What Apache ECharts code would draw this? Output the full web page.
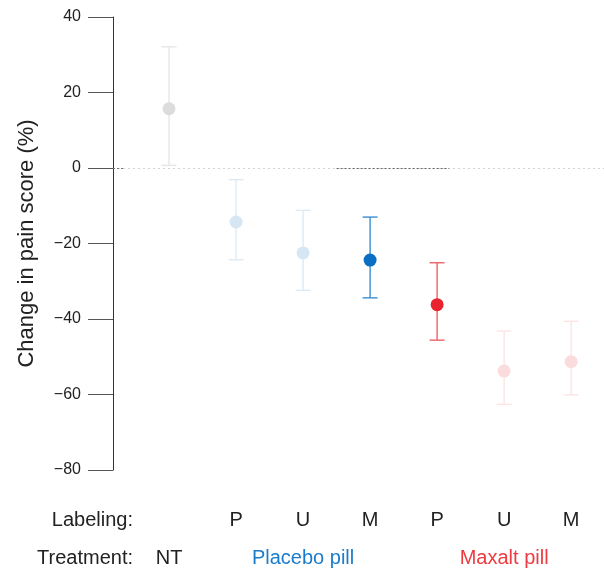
<!DOCTYPE html>
<html>
<head>
<meta charset="utf-8">
<script src="https://cdn.jsdelivr.net/npm/echarts@6/dist/echarts.min.js"></script>
<style>html,body{margin:0;padding:0;background:#fff}#c{width:604px;height:573px}</style>
</head>
<body>
<div id="c"></div>
<script>
// ---- data ----
var positions = [1, 2, 3, 4, 5, 6, 7];
var labeling = ['', 'P', 'U', 'M', 'P', 'U', 'M'];
var treatment = ['NT', '', 'Placebo pill', '', '', 'Maxalt pill', ''];
var meanChange = [15.7, -14.3, -22.5, -24.4, -36.2, -53.8, -51.3];
var upperCI = [32.1, -3.1, -11.2, -13.0, -25.1, -43.2, -40.6];
var lowerCI = [0.7, -24.3, -32.4, -34.4, -45.6, -62.6, -60.1];
var yTicks = [-80, -60, -40, -20, 0, 20, 40];

// ---- styles ----
var pointColors = ['#dcdcdc', '#d6e6f3', '#d6e6f3', '#0a6ec2', '#e8222e', '#fbdcdd', '#fbdcdd'];
var barColors = ['#e6e6e6', '#deebf6', '#deebf6', '#3a8ed2', '#ee6168', '#fce5e6', '#fce5e6'];
var FONT = '"Liberation Sans", Arial, Helvetica, sans-serif';

var chart = echarts.init(document.getElementById('c'), null, {renderer: 'canvas'});

var errData = positions.map(function (p, i) { return [p, lowerCI[i], upperCI[i]]; });
var ptData = positions.map(function (p, i) {
  return { value: [p, meanChange[i]], itemStyle: { color: pointColors[i], opacity: 1 } };
});

function fmtMinus(v) { return v < 0 ? '\u2212' + Math.abs(v) : String(v); }

var option = {
  animation: false,
  backgroundColor: '#ffffff',
  textStyle: { fontFamily: FONT },
  grid: { left: 113, right: 0, top: 17, bottom: 103, containLabel: false },
  xAxis: [
    {
      type: 'value', min: 0.164, max: 7.49, position: 'bottom',
      axisLine: { show: false }, axisTick: { show: false }, splitLine: { show: false },
      axisLabel: {
        customValues: positions, margin: 40,
        color: '#222', fontSize: 20, fontFamily: FONT,
        formatter: function (v) { return labeling[Math.round(v) - 1] || ''; }
      }
    },
    {
      type: 'value', min: 0.164, max: 7.49, position: 'bottom',
      axisLine: { show: false }, axisTick: { show: false }, splitLine: { show: false },
      axisLabel: {
        customValues: positions, margin: 78,
        fontSize: 20, fontFamily: FONT,
        formatter: function (v) {
          var t = treatment[Math.round(v) - 1] || '';
          if (!t) return '';
          var key = t === 'NT' ? 'nt' : (t.indexOf('Placebo') === 0 ? 'pl' : 'mx');
          return '{' + key + '|' + t + '}';
        },
        rich: {
          nt: { color: '#222', fontSize: 20, fontFamily: FONT },
          pl: { color: '#1b7ccb', fontSize: 20, fontFamily: FONT },
          mx: { color: '#ee3a40', fontSize: 20, fontFamily: FONT }
        }
      }
    }
  ],
  yAxis: {
    type: 'value', min: -80, max: 40, interval: 20,
    name: 'Change in pain score (%)', nameLocation: 'middle', nameGap: 75,
    nameTextStyle: { color: '#222', fontSize: 22, fontFamily: FONT },
    axisLine: { show: true, lineStyle: { color: '#333', width: 1 } },
    axisTick: { show: true, length: 25, inside: false, lineStyle: { color: '#555', width: 1 } },
    splitLine: { show: false },
    axisLabel: { color: '#222', fontSize: 16, fontFamily: FONT, margin: 32, formatter: fmtMinus }
  },
  graphic: [
    { type: 'text', right: 604 - 133, top: 510, style: { text: 'Labeling:', fill: '#222', font: '20px ' + FONT, textAlign: 'right' } },
    { type: 'text', right: 604 - 133, top: 548, style: { text: 'Treatment:', fill: '#222', font: '20px ' + FONT, textAlign: 'right' } }
  ],
  series: [
    {
      type: 'custom', xAxisIndex: 0, z: 2,
      data: errData,
      renderItem: function (params, api) {
        var x = api.value(0);
        var lo = api.coord([x, api.value(1)]);
        var hi = api.coord([x, api.value(2)]);
        var hw = 7.5;
        var st = { stroke: barColors[params.dataIndex], lineWidth: 1.4, fill: null };
        return {
          type: 'group',
          children: [
            { type: 'line', shape: { x1: hi[0], y1: hi[1], x2: lo[0], y2: lo[1] }, style: st },
            { type: 'line', shape: { x1: hi[0] - hw, y1: hi[1], x2: hi[0] + hw, y2: hi[1] }, style: st },
            { type: 'line', shape: { x1: lo[0] - hw, y1: lo[1], x2: lo[0] + hw, y2: lo[1] }, style: st }
          ]
        };
      }
    },
    {
      type: 'scatter', xAxisIndex: 0, z: 3,
      symbol: 'circle', symbolSize: 13,
      itemStyle: { opacity: 1 },
      data: ptData,
      markLine: {
        silent: true, symbol: 'none', label: { show: false }, z: 1,
        lineStyle: { color: '#d2d2d2', type: [2, 3], width: 1 },
        data: [
          { yAxis: 0 },
          [{ coord: [0.164, 0], lineStyle: { color: '#777', type: [2, 2] } }, { coord: [0.33, 0] }],
          [{ coord: [3.5, 0], lineStyle: { color: '#666', type: [2, 2] } }, { coord: [5.18, 0] }]
        ]
      }
    }
  ]
};
chart.setOption(option);
</script>
</body>
</html>
